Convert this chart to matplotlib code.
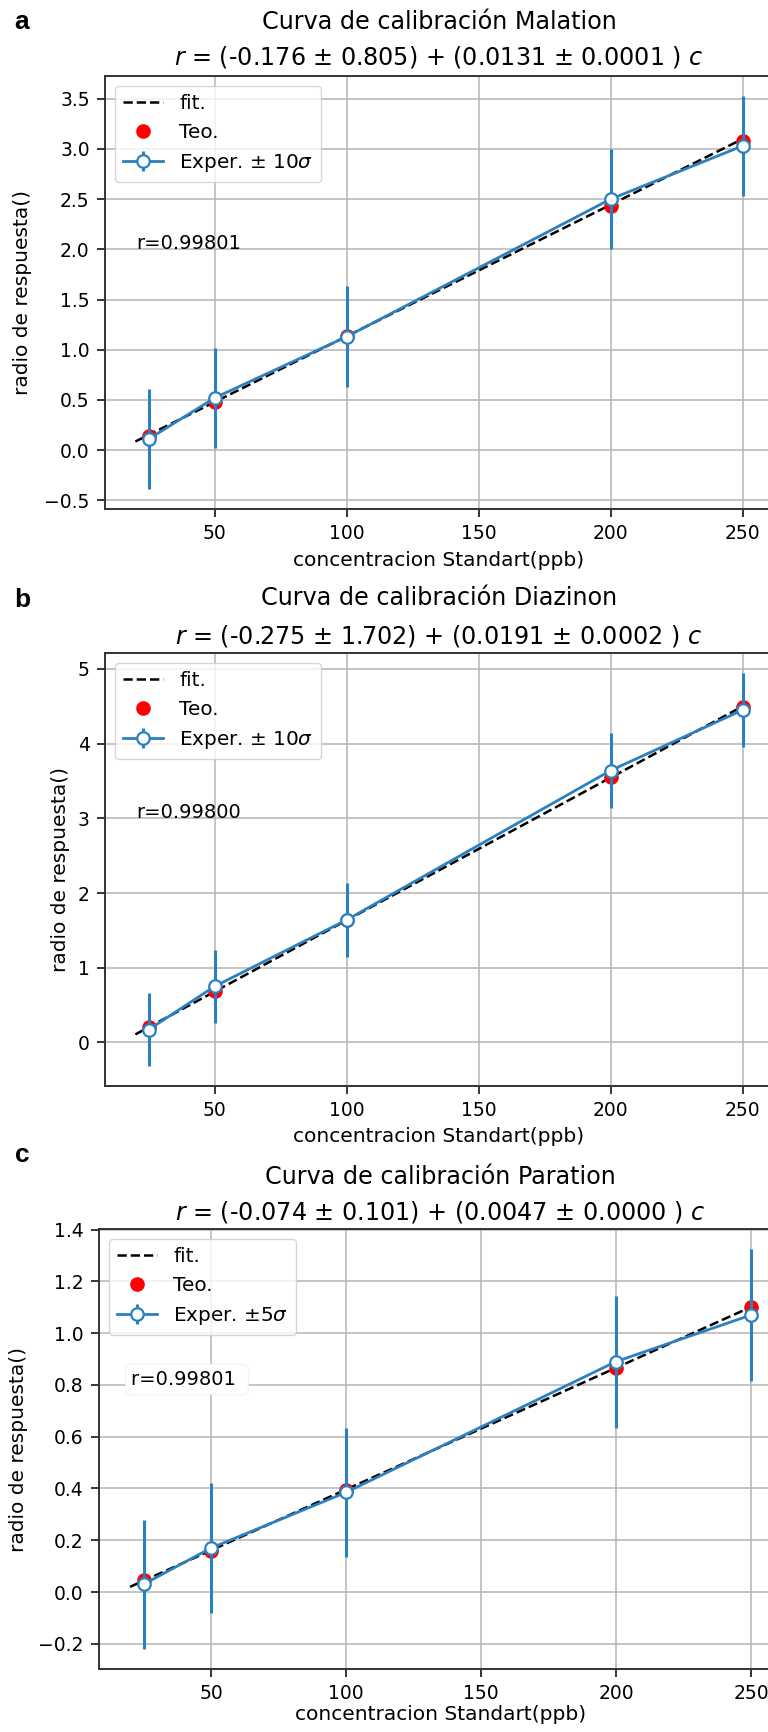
import matplotlib
matplotlib.use("Agg")
import matplotlib.pyplot as plt
import numpy as np

# ---------------- data ----------------
conc = [25, 50, 100, 200, 250]
fit_x = [20, 250]

names = ["Malation", "Diazinon", "Paration"]
panel_labels = ["a", "b", "c"]

intercepts = [-0.176, -0.275, -0.074]
intercept_err = [0.805, 1.702, 0.101]
slopes = [0.0131, 0.0191, 0.0047]
slope_err = [0.0001, 0.0002, 0.0000]

teo_a = [0.14, 0.48, 1.14, 2.43, 3.08]
exp_a = [0.11, 0.52, 1.13, 2.50, 3.03]
err_a = [0.50, 0.50, 0.50, 0.50, 0.50]

teo_b = [0.21, 0.69, 1.64, 3.56, 4.49]
exp_b = [0.17, 0.75, 1.64, 3.64, 4.45]
err_b = [0.49, 0.49, 0.50, 0.50, 0.50]

teo_c = [0.045, 0.16, 0.395, 0.865, 1.10]
exp_c = [0.03, 0.17, 0.385, 0.89, 1.07]
err_c = [0.25, 0.25, 0.25, 0.255, 0.255]

r_values = ["r=0.99801", "r=0.99800", "r=0.99801 "]
r_text_y = [2.0, 3.0, 0.8]
exp_labels = [r"Exper. $\pm$ 10$\sigma$", r"Exper. $\pm$ 10$\sigma$", r"Exper. $\pm 5\sigma$"]

teos = [teo_a, teo_b, teo_c]
exps = [exp_a, exp_b, exp_c]
errs = [err_a, err_b, err_c]

# ---------------- layout (pixels) ----------------
W, H = 768, 1732
boxes = [(105, 76, 773, 509), (105, 653, 773, 1086), (99, 1229, 782, 1669)]
label_pos = [(22, 22), (22, 600), (22, 1155)]
ylabel_x = [22, 60, 18]
xlabel_dy = [52, 51, 45]
title_dy = [(-54, -19), (-55, -17), (-52, -17)]


def pos(l, t, r, b):
    return [l / W, 1 - b / H, (r - l) / W, (b - t) / H]


fig = plt.figure(figsize=(W / 100, H / 100), dpi=100)
blue = "#2b80c0"

for i in range(3):
    l, t, r, b = boxes[i]
    ax = fig.add_axes(pos(l, t, r, b))
    fy = [intercepts[i] + slopes[i] * fx for fx in fit_x]
    h_fit, = ax.plot(fit_x, fy, "--", color="black", lw=1.8, zorder=3, label="fit.")
    h_teo, = ax.plot(conc, teos[i], "o", color="red", ms=9.5, zorder=4, label="Teo.")
    h_exp = ax.errorbar(conc, exps[i], yerr=errs[i], fmt="-o", color=blue,
                        mfc="white", mec=blue, mew=1.6, ms=9, lw=2.0,
                        elinewidth=2.2, capsize=0, zorder=5, label=exp_labels[i])
    ax.grid(True, color="#b5b5b5", lw=1.1, zorder=0)
    ax.set_axisbelow(True)
    ax.tick_params(labelsize=13.5, length=6, width=1.1, pad=5)
    for s in ax.spines.values():
        s.set_linewidth(1.4)
        s.set_color("#333333")
    ax.set_xticks([50, 100, 150, 200, 250])

    ax.set_xlabel("concentracion Standart(ppb)", fontsize=14.5, va="center")
    ax.xaxis.set_label_coords(0.5, -xlabel_dy[i] / (b - t))
    ax.set_ylabel("radio de respuesta()", fontsize=14.5, va="center")
    ax.yaxis.set_label_coords((ylabel_x[i] - l) / (r - l), 0.5)

    line1 = f"Curva de calibración {names[i]}"
    line2 = (f"$r$ = ({intercepts[i]:.3f} $\\pm$ {intercept_err[i]:.3f}) + "
             f"({slopes[i]:.4f} $\\pm$ {slope_err[i]:.4f} ) $c$")
    cx = ((l + r) / 2 - l) / (r - l)
    d1, d2 = title_dy[i]
    ax.text(cx, 1 - d1 / (b - t), line1, transform=ax.transAxes, fontsize=17.2,
            ha="center", va="center")
    ax.text(cx, 1 - d2 / (b - t), line2, transform=ax.transAxes, fontsize=17.2,
            ha="center", va="center")

    ax.legend([h_fit, h_teo, h_exp], ["fit.", "Teo.", exp_labels[i]],
              loc="upper left", fontsize=14.4, framealpha=0.8,
              edgecolor="#cccccc", handlelength=2.0, labelspacing=0.5)
    if i == 2:
        ax.text(20.5, r_text_y[i], r_values[i], fontsize=14, va="baseline",
                bbox=dict(boxstyle="round,pad=0.3", fc="white", ec="#f2f2f2", lw=0.8),
                zorder=2)
    else:
        ax.text(20.5, r_text_y[i], r_values[i], fontsize=14, va="baseline")
    lx, ly = label_pos[i]
    fig.text(lx / W, 1 - ly / H, panel_labels[i], fontsize=19, fontweight="bold",
             family="Liberation Sans", ha="center", va="center")

fig.savefig("out.png", dpi=100)
